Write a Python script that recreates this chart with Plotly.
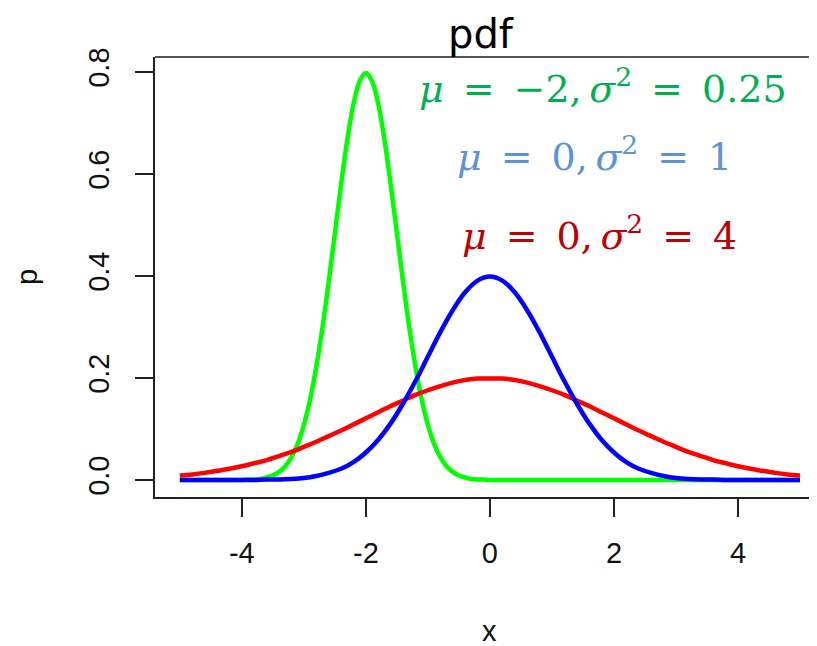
import plotly.graph_objects as go

# x grids
x_main = [round(-5 + 0.2 * i, 1) for i in range(51)]
x_green = [round(-5 + 0.1 * i, 1) for i in range(101)]

# N(0,1) density (x = -5 .. 5 step 0.2)
blue_vals = [0.000, 0.000, 0.000, 0.000, 0.000, 0.000, 0.000, 0.001, 0.001, 0.002,
             0.004, 0.008, 0.014, 0.022, 0.035, 0.054, 0.079, 0.111, 0.150, 0.194,
             0.242, 0.290, 0.333, 0.368, 0.391, 0.399, 0.391, 0.368, 0.333, 0.290,
             0.242, 0.194, 0.150, 0.111, 0.079, 0.054, 0.035, 0.022, 0.014, 0.008,
             0.004, 0.002, 0.001, 0.001, 0.000, 0.000, 0.000, 0.000, 0.000, 0.000,
             0.000]

# N(0,4) density (x = -5 .. 5 step 0.2)
red_vals = [0.009, 0.011, 0.014, 0.018, 0.022, 0.027, 0.033, 0.039, 0.047, 0.055,
            0.065, 0.075, 0.086, 0.097, 0.109, 0.121, 0.133, 0.145, 0.156, 0.167,
            0.176, 0.184, 0.191, 0.196, 0.199, 0.199, 0.199, 0.196, 0.191, 0.184,
            0.176, 0.167, 0.156, 0.145, 0.133, 0.121, 0.109, 0.097, 0.086, 0.075,
            0.065, 0.055, 0.047, 0.039, 0.033, 0.027, 0.022, 0.018, 0.014, 0.011,
            0.009]

# N(-2,0.25) density (x = -5 .. 5 step 0.1)
green_vals = [0.000, 0.000, 0.000, 0.000, 0.000, 0.000, 0.000, 0.000, 0.000, 0.000,
              0.000, 0.001, 0.001, 0.002, 0.005, 0.009, 0.016, 0.027, 0.045, 0.071,
              0.108, 0.158, 0.222, 0.299, 0.388, 0.484, 0.579, 0.667, 0.737, 0.782,
              0.798, 0.782, 0.737, 0.667, 0.579, 0.484, 0.388, 0.299, 0.222, 0.158,
              0.108, 0.071, 0.045, 0.027, 0.016, 0.009, 0.005, 0.002, 0.001, 0.001,
              0.000, 0.000, 0.000, 0.000, 0.000, 0.000, 0.000, 0.000, 0.000, 0.000,
              0.000, 0.000, 0.000, 0.000, 0.000, 0.000, 0.000, 0.000, 0.000, 0.000,
              0.000, 0.000, 0.000, 0.000, 0.000, 0.000, 0.000, 0.000, 0.000, 0.000,
              0.000, 0.000, 0.000, 0.000, 0.000, 0.000, 0.000, 0.000, 0.000, 0.000,
              0.000, 0.000, 0.000, 0.000, 0.000, 0.000, 0.000, 0.000, 0.000, 0.000,
              0.000]

x_ticks = [-4, -2, 0, 2, 4]
x_tick_text = ["-4", "-2", "0", "2", "4"]
y_ticks = [0.0, 0.2, 0.4, 0.6, 0.8]
y_tick_text = ["0.0", "0.2", "0.4", "0.6", "0.8"]

labels = [
    ("<i>μ</i>\u2002=\u2002−2,\u2009<i>σ</i><sup>2</sup>\u2002=\u20020.25", "#00B050", 1.82, 0.772),
    ("<i>μ</i>\u2002=\u20020,\u2009<i>σ</i><sup>2</sup>\u2002=\u20021", "#5B93D6", 1.69, 0.640),
    ("<i>μ</i>\u2002=\u20020,\u2009<i>σ</i><sup>2</sup>\u2002=\u20024", "#C00000", 1.77, 0.485),
]

fig = go.Figure()
fig.add_trace(go.Scatter(x=x_green, y=green_vals, mode="lines",
                         line=dict(color="#00FF00", width=4.5), line_shape="spline"))
fig.add_trace(go.Scatter(x=x_main, y=red_vals, mode="lines",
                         line=dict(color="#FF0000", width=4.5), line_shape="spline"))
fig.add_trace(go.Scatter(x=x_main, y=blue_vals, mode="lines",
                         line=dict(color="#0000FF", width=4.5), line_shape="spline"))

axis_col = "#222222"
tick_font = dict(family="Liberation Sans", size=29, color="#111")
# the page body has an 8px margin, so the figure is 8px smaller than the window
fig.update_layout(
    width=809, height=638,
    margin=dict(l=147, r=0, t=49, b=149, autoexpand=False),
    paper_bgcolor="white", plot_bgcolor="white",
    showlegend=False,
    xaxis=dict(range=[-5.4, 5.274], tickvals=x_ticks, ticktext=x_tick_text,
               ticks="outside", ticklen=18, tickwidth=2, tickcolor=axis_col,
               showline=True, linecolor=axis_col, linewidth=2, showgrid=False,
               zeroline=False, tickfont=tick_font, ticklabelstandoff=11,
               automargin=False),
    yaxis=dict(range=[-0.0333, 0.8294], tickvals=y_ticks, ticktext=y_tick_text,
               ticks="outside", ticklen=18, tickwidth=2, tickcolor=axis_col,
               showline=True, linecolor=axis_col, linewidth=2, showgrid=False,
               zeroline=False, tickangle=-90, tickfont=tick_font,
               ticklabelstandoff=14, automargin=False),
)

# top border of the box
fig.add_shape(type="line", xref="paper", yref="paper", x0=0, x1=1, y0=1, y1=1,
              line=dict(color="#555555", width=2))

for txt, col, lx, ly in labels:
    fig.add_annotation(x=lx, y=ly, xref="x", yref="y", text=txt, showarrow=False,
                       font=dict(family="DejaVu Serif", size=38, color=col),
                       xanchor="center", yanchor="middle")

fig.add_annotation(text="pdf", xref="paper", yref="paper", x=(481 - 155) / 662, y=1,
                   xanchor="center", yanchor="bottom", yshift=-1, borderpad=0,
                   showarrow=False,
                   font=dict(family="DejaVu Sans", size=40, color="black"))
fig.add_annotation(text="x", xref="paper", yref="paper", x=(490 - 155) / 662, y=0,
                   xanchor="center", yanchor="middle", yshift=-134, borderpad=0,
                   showarrow=False,
                   font=dict(family="Liberation Sans", size=29, color="#111"))
fig.add_annotation(text="p", xref="paper", yref="paper", x=0, y=(497 - 277) / 440,
                   xanchor="center", yanchor="middle", xshift=-128, textangle=-90,
                   showarrow=False,
                   font=dict(family="Liberation Sans", size=29, color="#111"))

fig.write_html("out.html")
